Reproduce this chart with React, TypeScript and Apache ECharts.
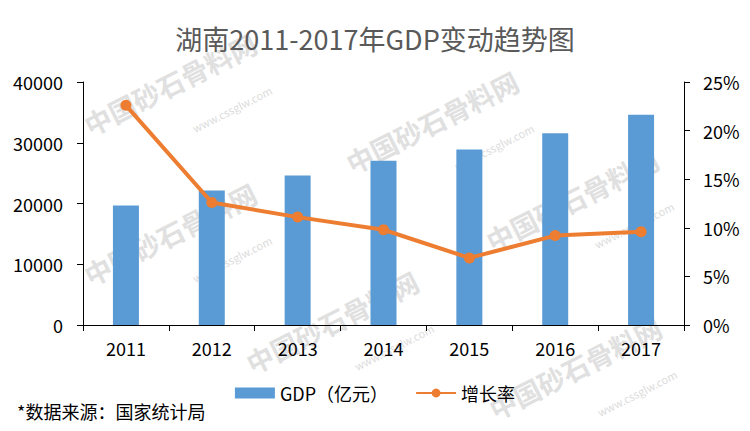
import React, { useEffect, useRef } from "react";
import * as echarts from "echarts";

const years = ["2011", "2012", "2013", "2014", "2015", "2016", "2017"];
const gdp = [19670, 22154, 24622, 27037, 28902, 31551, 34591];
const growth = [22.6, 12.6, 11.1, 9.8, 6.9, 9.2, 9.6];
const leftTicks = { min: 0, max: 40000, interval: 10000 };
const rightTicks = { min: 0, max: 25, interval: 5 };
const watermarkSpots = [
  [170, 84],
  [432, 122],
  [170, 234],
  [572, 200],
  [332, 322],
  [575, 368],
];

const FONT = "'Noto Sans CJK SC', 'Noto Sans', sans-serif";

export default function App() {
  const ref = useRef<HTMLDivElement>(null);
  useEffect(() => {
    if (!ref.current) return;
    const chart = echarts.init(ref.current, undefined, { renderer: "svg" });
    const wm: any[] = [];
    watermarkSpots.forEach(([x, y]) => {
      wm.push({
        type: "text",
        x,
        y,
        rotation: 0.47,
        z: 0,
        silent: true,
        style: {
          text: "中国砂石骨料网",
          fill: "#e0e0e0",
          font: `bold 27px ${FONT}`,
          align: "center",
          verticalAlign: "middle",
        },
      });
      wm.push({
        type: "text",
        x: x + 62,
        y: y + 25,
        rotation: 0.47,
        z: 0,
        silent: true,
        style: {
          text: "www.cssglw.com",
          fill: "#dcdcdc",
          font: `11px ${FONT}`,
          align: "center",
          verticalAlign: "middle",
        },
      });
    });
    chart.setOption({
      animation: false,
      backgroundColor: "#ffffff",
      title: {
        text: "湖南2011-2017年GDP变动趋势图",
        left: "center",
        top: 20,
        textStyle: {
          color: "#595959",
          fontSize: 27,
          fontWeight: "normal",
          fontFamily: FONT,
        },
      },
      grid: { left: 83, right: 66, top: 82, bottom: 106, containLabel: false },
      legend: {
        bottom: 24,
        left: "center",
        itemGap: 27,
        itemWidth: 40,
        itemHeight: 11,
        textStyle: { color: "#000", fontSize: 18, fontFamily: FONT },
        data: [
          { name: "GDP（亿元）", icon: "rect" },
          { name: "增长率" },
        ],
      },
      graphic: [
        ...wm,
        {
          type: "text",
          left: 17,
          top: 402,
          z: 10,
          style: {
            text: "*数据来源：国家统计局",
            fill: "#000",
            font: `18px ${FONT}`,
          },
        },
      ],
      xAxis: {
        type: "category",
        data: years,
        boundaryGap: true,
        axisLine: { lineStyle: { color: "#000", width: 1 } },
        axisTick: { show: true, length: 6, lineStyle: { color: "#000" } },
        axisLabel: { color: "#000", fontSize: 18, fontFamily: FONT, margin: 14 },
        splitLine: { show: false },
      },
      yAxis: [
        {
          type: "value",
          ...leftTicks,
          axisLine: { show: true, lineStyle: { color: "#000", width: 1 } },
          axisTick: { show: true, length: 6, lineStyle: { color: "#000" } },
          axisLabel: {
            color: "#000",
            fontSize: 18,
            fontFamily: FONT,
            margin: 20,
            formatter: (v: number) => String(v),
          },
          splitLine: { show: false },
        },
        {
          type: "value",
          ...rightTicks,
          position: "right",
          axisLine: { show: true, lineStyle: { color: "#000", width: 1 } },
          axisTick: { show: true, length: 6, lineStyle: { color: "#000" } },
          axisLabel: {
            color: "#000",
            fontSize: 18,
            fontFamily: FONT,
            margin: 19,
            formatter: "{value}%",
          },
          splitLine: { show: false },
        },
      ],
      series: [
        {
          name: "GDP（亿元）",
          type: "bar",
          data: gdp,
          barWidth: 26,
          z: 2,
          itemStyle: { color: "#5B9BD5" },
        },
        {
          name: "增长率",
          type: "line",
          yAxisIndex: 1,
          data: growth,
          z: 3,
          symbol: "circle",
          symbolSize: 11,
          lineStyle: { color: "#ED7D31", width: 4 },
          itemStyle: { color: "#ED7D31" },
        },
      ],
    });
    return () => chart.dispose();
  }, []);
  return <div ref={ref} style={{ width: 750, height: 431, position: "absolute", left: 0, top: 0 }} />;
}
